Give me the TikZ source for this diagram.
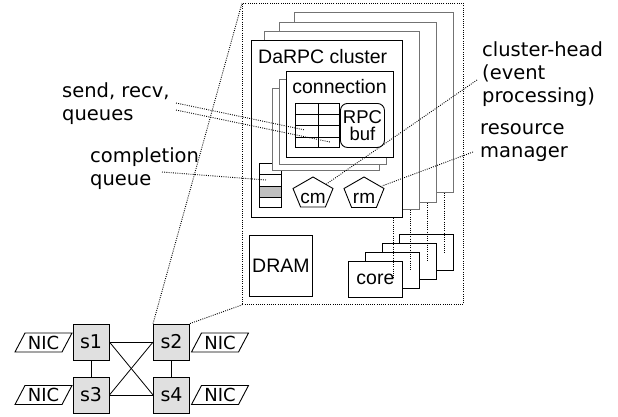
\documentclass[tikz,border=0pt]{standalone}
\usepackage{fontspec}
\setmainfont{Liberation Sans}
\newfontfamily\dvs{DejaVu Sans}
\begin{document}
\begin{tikzpicture}[x=1pt,y=-1pt,
  box/.style={draw=black, line width=0.9pt, fill=white, inner sep=0pt, anchor=north west},
  backbox/.style={box, draw=black!55},
  dots/.style={line width=0.9pt, dash pattern=on 0.9pt off 1.3pt},
  lbl/.style={font=\dvs\fontsize{19.5}{23}\selectfont, align=left, inner sep=0pt},
  itxt/.style={font=\fontsize{19.5}{23}\selectfont, inner sep=0pt},
  sw/.style={draw, line width=0.9pt, fill=black!12, minimum width=36pt, minimum height=36pt, inner sep=0pt, font=\dvs\fontsize{19}{22}\selectfont},
  nictxt/.style={inner sep=0pt, font=\dvs\fontsize{18}{20}\selectfont},
  nicbox/.style={line width=0.9pt},
  link/.style={line width=0.8pt},
  pent/.style={line width=0.9pt, fill=white}
]
\useasboundingbox (0,0) rectangle (618,416);

% server (dotted) box
\node[draw, dots, inner sep=0pt, anchor=north west, minimum width=221pt, minimum height=301pt] (srv) at (242,3) {};

% cluster frames
\node[backbox, minimum width=159pt, minimum height=180pt] (cl4) at (294,12) {};
\node[backbox, minimum width=157pt, minimum height=180pt] (cl3) at (279,22) {};
\node[backbox, minimum width=155pt, minimum height=178pt] (cl2) at (264,31) {};
\node[box, minimum width=151pt, minimum height=177pt] (cl1) at (251,40) {};
\node[itxt, anchor=base west] (clt) at (258,63) {DaRPC cluster};

% completion queue
\node[box, minimum width=22pt, minimum height=44pt] (cq) at (259,163) {};
\fill[black!25] (259,186) rectangle (281,197);
\draw[line width=0.9pt] (259,163) rectangle (281,207);
\draw[line width=0.9pt] (259,174) -- (281,174) (259,186) -- (281,186) (259,197) -- (281,197);

% connection frames
\node[backbox, minimum width=107pt, minimum height=82pt] (cn3) at (272,88) {};
\node[backbox, minimum width=107pt, minimum height=85pt] (cn2) at (279,79) {};
\node[box, minimum width=107pt, minimum height=86pt] (cn1) at (286,71) {};
\node[itxt, anchor=base] (cnt) at (339.5,93) {connection};

% send/recv queue table
\node[box, minimum width=44pt, minimum height=44pt] (tbl) at (295,103) {};
\draw[line width=0.9pt] (318,103) -- (318,147) (295,114) -- (339,114) (295,125) -- (339,125) (295,137) -- (339,137);

% RPC buffer
\node[box, rounded corners=7pt, minimum width=44pt, minimum height=44pt, align=center, font=\fontsize{18.5}{17}\selectfont] (rpc) at (340,103) {RPC\\buf};

% cm and rm pentagons
\draw[pent] (313,177) -- (333,188.5) -- (325.4,207) -- (300.6,207) -- (293,188.5) -- cycle;
\node[itxt, font=\fontsize{19}{20}\selectfont, anchor=base] (cm) at (313,203.5) {cm};
\draw[pent] (364,177) -- (384,188.5) -- (376.4,207.5) -- (351.6,207.5) -- (344,188.5) -- cycle;
\node[itxt, font=\fontsize{19}{20}\selectfont, anchor=base] (rm) at (364,203.5) {rm};

% DRAM
\node[box, itxt, minimum width=63pt, minimum height=61pt] (dram) at (249,235) {DRAM};

% cores
\node[box, minimum width=54pt, minimum height=36pt] (c4) at (399,234) {};
\node[box, minimum width=54pt, minimum height=36pt] (c3) at (382,243) {};
\node[box, minimum width=54pt, minimum height=36pt] (c2) at (365,252) {};
\node[box, itxt, minimum width=54pt, minimum height=36pt] (c1) at (348,261) {core};

% cluster -> core dotted links
\draw[dots] ([xshift=-9pt]cl1.south east) -- ([xshift=-9pt]c1.east);
\draw[dots] ([xshift=-9pt]cl2.south east) -- ([xshift=-9pt]c2.east);
\draw[dots] ([xshift=-9pt]cl3.south east) -- ([xshift=-9pt]c3.east);
\draw[dots] ([xshift=-9pt]cl4.south east) -- ([xshift=-9pt]c4.east);

% labels (base anchor = baseline of last line)
\node[lbl, anchor=base west] (lsr) at (62,120) {send, recv,\\queues};
\node[lbl, anchor=base west] (lcq) at (90,185) {completion\\queue};
\node[lbl, anchor=base west] (lch) at (482,102) {cluster-head\\(event\\processing)};
\node[lbl, anchor=base west] (lrm) at (480,157) {resource\\manager};

\coordinate (a1) at (176,103); \coordinate (b1) at (305,130);
\coordinate (a2) at (176,110); \coordinate (b2) at (330,142);
\coordinate (a3) at (162,172); \coordinate (b3) at (266,180);
\coordinate (a4) at (477,80);  \coordinate (b4) at (325,185);
\coordinate (a5) at (473,152); \coordinate (b5) at (382,186);
\draw[dots] (a1) -- (b1);
\draw[dots] (a2) -- (b2);
\draw[dots] (a3) -- (b3);
\draw[dots] (a4) -- (b4);
\draw[dots] (a5) -- (b5);

% switches
\node[sw] (s1) at (91,342) {s1};
\node[sw] (s2) at (171.5,342) {s2};
\node[sw] (s3) at (91,395) {s3};
\node[sw] (s4) at (171.5,395) {s4};
\draw[link] (s1) -- (s2);
\draw[link] (s3) -- (s4);
\draw[link] (s1) -- (s3);
\draw[link] (s2) -- (s4);
\draw[link] (s1.east) -- (s4.west);
\draw[link] (s3.east) -- (s2.west);

% perspective lines
\draw[dots] (s2.north west) -- (srv.north west);
\draw[dots] (s2.north east) -- (srv.south west);

% NICs
\node[nictxt] (n1) at (43.5,342.5) {NIC};
\node[nictxt] (n3) at (43.5,395) {NIC};
\node[nictxt] (n2) at (220,342.5) {NIC};
\node[nictxt] (n4) at (220,395) {NIC};
\draw[nicbox] ([shift={(-28.5,9.5)}]n1.center) -- ++(10,-19) -- ++(47,0) -- ++(-10,19) -- cycle;
\draw[nicbox] ([shift={(-28.5,9.5)}]n3.center) -- ++(10,-19) -- ++(47,0) -- ++(-10,19) -- cycle;
\draw[nicbox] ([shift={(-28.5,9.5)}]n2.center) -- ++(10,-19) -- ++(47,0) -- ++(-10,19) -- cycle;
\draw[nicbox] ([shift={(-28.5,9.5)}]n4.center) -- ++(10,-19) -- ++(47,0) -- ++(-10,19) -- cycle;
\end{tikzpicture}
\end{document}
